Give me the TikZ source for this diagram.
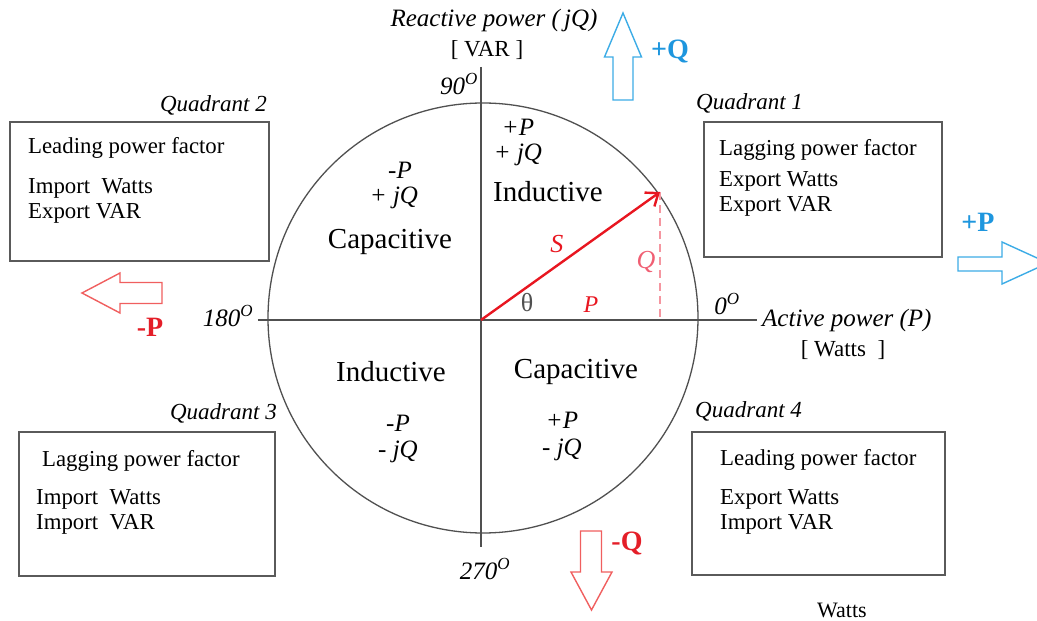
\documentclass[tikz,border=0pt]{standalone}
\usepackage{fontspec}
\setmainfont{Liberation Serif}
\usetikzlibrary{arrows.meta}
\definecolor{axgray}{RGB}{80,80,80}
\definecolor{boxgray}{RGB}{90,90,90}
\definecolor{qblue}{RGB}{60,172,230}
\definecolor{qbluetxt}{RGB}{30,150,222}
\definecolor{pred}{RGB}{240,95,95}
\definecolor{predtxt}{RGB}{228,30,40}
\definecolor{sred}{RGB}{232,22,32}
\definecolor{qpink}{RGB}{240,95,115}
\definecolor{dpink}{RGB}{245,150,160}
\newcommand{\dg}{\textsuperscript{\fontsize{17}{17}\selectfont O}}

\begin{document}
\begin{tikzpicture}[x=1pt, y=1pt,
  txt/.style={inner sep=0pt, font=\fontsize{#1}{#1}\selectfont},
  itx/.style={inner sep=0pt, font=\fontsize{#1}{#1}\selectfont\itshape},
  region/.style={inner sep=0pt, font=\fontsize{29}{29}\selectfont},
  qbox/.style={draw=boxgray, line width=1.4pt, inner sep=0pt},
  qtext/.style={inner sep=0pt, anchor=north west, align=left,
                font=\fontsize{22.8}{25}\selectfont},
  qname/.style={inner sep=0pt, font=\fontsize{23}{23}\selectfont\itshape},
  axis/.style={draw=axgray, line width=1.3pt},
  barrow/.style={line width=1.4pt, line join=miter, fill=white},
  sign/.style={inner sep=0pt, font=\fontsize{28}{28}\selectfont\bfseries},
  sarrow/.style={draw=sred, line width=2.4pt,
                 -{Straight Barb[length=11pt, width=17pt]}},
]
\clip (-481,-301) rectangle (556,320);

% ---- circle and axes ------------------------------------------------------
\coordinate (O)    at (0,0);
\coordinate (ytop) at (0,253);
\coordinate (ybot) at (0,-227);
\coordinate (xlft) at (-223,0);
\coordinate (xrgt) at (276,0);
\draw[axis] (2,2) circle (215);
\draw[axis] (ytop) -- (ybot);
\draw[axis] (xlft) -- (xrgt);

% ---- axis labels ----------------------------------------------------------
\node[itx=25] (rq)   at (13,300)  {Reactive power (\,jQ)};
\node[txt=23] (var)  at (6,270)   {[ VAR ]};
\node[itx=25, anchor=west] (ap) at (281,0) {Active power (P)};
\node[txt=23] (wat)  at (362,-30) {[ Watts\ \ ]};
\node[itx=25] (d90)  at (-22,236) {90\dg};
\node[itx=25] (d180) at (-253,4)  {180\dg};
\node[itx=25] (d0)   at (246,16)  {0\dg};
\node[itx=25] (d270) at (4,-249)  {270\dg};

% ---- regions inside the circle --------------------------------------------
\node[itx=25] (p1) at (37,193)   {+P};
\node[itx=25] (q1) at (37,165)   {+ jQ};
\node[region] (r1) at (67,128)   {Inductive};
\node[itx=25] (p2) at (-81,150)  {-P};
\node[itx=25] (q2) at (-87,122)  {+ jQ};
\node[region] (r2) at (-91,78)   {Capacitive};
\node[region] (r3) at (-90,-52)  {Inductive};
\node[itx=25] (p3) at (-83,-103) {-P};
\node[itx=25] (q3) at (-83,-132) {- jQ};
\node[region] (r4) at (95,-52)   {Capacitive};
\node[itx=25] (p4) at (81,-100)  {+P};
\node[itx=25] (q4) at (81,-130)  {- jQ};

% ---- power triangle -------------------------------------------------------
\coordinate (Stip)  at (179,128);
\coordinate (Sfoot) at (179,0);
\draw[dpink, line width=1.5pt, dash pattern=on 8pt off 5pt] (Stip) -- (Sfoot);
\draw[sarrow] (O) -- (Stip);
\node[itx=26, text=sred]  (lS)  at (76,76)  {S};
\node[itx=26, text=qpink] (lQ)  at (165,58) {Q};
\node[itx=24, text=sred]  (lP)  at (110,15) {P};
\node[txt=26, text=axgray] (th) at (46,17)  {θ};

% ---- quadrant boxes -------------------------------------------------------
\node[qbox, minimum width=259, minimum height=139] (box2) at (-341.5,128.5) {};
\node[qbox, minimum width=238, minimum height=135] (box1) at (342,130.5) {};
\node[qbox, minimum width=256, minimum height=144] (box3) at (-334,-184) {};
\node[qbox, minimum width=253, minimum height=143] (box4) at (337.5,-183.5) {};

\node[qname, anchor=base east] (n2) at (-214,208) {Quadrant 2};
\node[qname, anchor=base west] (n1) at (215,210)  {Quadrant 1};
\node[qname, anchor=base east] (n3) at (-204,-100) {Quadrant 3};
\node[qname, anchor=base west] (n4) at (214,-98)  {Quadrant 4};

\node[qtext] (t2) at (-453,183)
  {Leading power factor\\[15pt] Import\ \ Watts\\ Export VAR};
\node[qtext] (t1) at (238,181)
  {Lagging power factor\\[6pt] Export Watts\\ Export VAR};
\node[qtext] (t3) at (-445,-130)
  {\hspace*{6pt}Lagging power factor\\[13pt] Import\ \ Watts\\ Import\ \ VAR};
\node[qtext] (t4) at (239,-129)
  {Leading power factor\\[14pt] Export Watts\\ Import VAR};

% ---- direction arrows -----------------------------------------------------
\draw[barrow, draw=qblue] (132,220) -- (132,263) -- (123.5,263) -- (142,307)
  -- (160.5,263) -- (152,263) -- (152,220) -- cycle;
\draw[barrow, draw=qblue] (477,49) -- (521,49) -- (521,36) -- (567,57)
  -- (521,78) -- (521,63) -- (477,63) -- cycle;
\draw[barrow, draw=pred] (-319,16.5) -- (-361,16.5) -- (-361,7) -- (-399,27)
  -- (-361,47) -- (-361,37.5) -- (-319,37.5) -- cycle;
\draw[barrow, draw=pred] (99.5,-211) -- (99.5,-252) -- (90,-252) -- (110.5,-290)
  -- (131,-252) -- (120.5,-252) -- (120.5,-211) -- cycle;

\node[sign, text=qbluetxt] (sq1) at (189,268)  {+Q};
\node[sign, text=qbluetxt] (sp1) at (497,98)   {+P};
\node[sign, text=predtxt]  (sp2) at (-331,-7)  {-P};
\node[sign, text=predtxt]  (sq2) at (146,-223) {-Q};

\node[txt=22] (wt) at (361,-290) {Watts};

\end{tikzpicture}
\end{document}
